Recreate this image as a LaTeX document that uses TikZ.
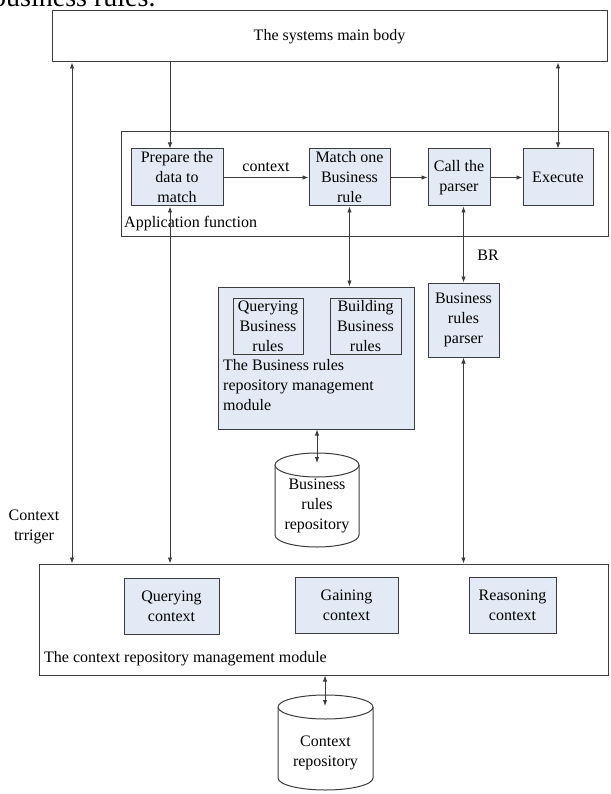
\documentclass[tikz,border=0pt]{standalone}
\usepackage{fontspec}
\setmainfont{Liberation Serif}
\usetikzlibrary{arrows.meta}
\definecolor{boxfill}{RGB}{228,234,245}
\definecolor{linegray}{RGB}{60,60,60}
\tikzset{
	outerbox/.style={draw=linegray, line width=1pt, fill=white},
	blockbox/.style={draw=linegray, line width=1pt, fill=boxfill, align=center, inner sep=1pt},
	link/.style={draw=linegray, line width=0.9pt},
	>={Latex[length=6pt,width=4.5pt]}
}
\begin{document}
\begin{tikzpicture}[x=1pt,y=-1pt,font=\fontsize{16}{20}\selectfont]
	\useasboundingbox (0,0) rectangle (610,794);
	%Caption cut off at the top
	\node [anchor=base west, inner sep=0pt, font=\fontsize{28}{30}\selectfont] (caption) at (-8,7) {business rules.};
	%The systems main body
	\node [outerbox, minimum width=555, minimum height=51] (main) at (329.5,36.5) {The systems main body};
	%Application function
	\node [outerbox, minimum width=487, minimum height=104] (app) at (364.5,184) {};
	\node [anchor=west, inner sep=2pt] (applabel) at (122,224) {Application function};
	\node [blockbox, minimum width=92, minimum height=57] (prep) at (177,177.5) {Prepare the\\data to\\match};
	\node [blockbox, minimum width=81, minimum height=57] (match) at (349.5,177.5) {Match one\\Business\\rule};
	\node [blockbox, minimum width=62, minimum height=57] (call) at (459,177.5) {Call the\\parser};
	\node [blockbox, minimum width=70, minimum height=57] (exec) at (558,177.5) {Execute};
	%Business rules repository management module
	\node [blockbox, minimum width=196, minimum height=142] (brm) at (316,358) {};
	\node [blockbox, minimum width=70, minimum height=56] (qbr) at (268,326) {Querying\\Business\\rules};
	\node [blockbox, minimum width=71, minimum height=56] (bbr) at (365.5,326) {Building\\Business\\rules};
	\node [anchor=north west, align=left, inner sep=2pt] (brmlabel) at (221,357) {The Business rules\\repository management\\module};
	\node [blockbox, minimum width=71, minimum height=74] (parser) at (463.5,320) {Business\\rules\\parser};
	\node [inner sep=0pt] (brlabel) at (488,255) {BR};
	%Business rules repository
	\draw [outerbox] (275,465) -- (275,535) arc [start angle=180, end angle=0, x radius=42, y radius=12]
		-- (359,465) arc [start angle=0, end angle=-180, x radius=42, y radius=12] -- cycle;
	\draw [outerbox] (275,465) arc [start angle=180, end angle=0, x radius=42, y radius=12];
	\node [align=center, inner sep=0pt] (brrepo) at (317,506) {Business\\rules\\repository};
	\coordinate (brrepotop) at (317,463);
	%Context repository management module
	\node [outerbox, minimum width=569, minimum height=111] (cmgmt) at (323.5,619.5) {};
	\node [anchor=west, inner sep=2pt] (cmgmtlabel) at (42,659) {The context repository management module};
	\node [blockbox, minimum width=95, minimum height=56] (qctx) at (171.5,606) {Querying\\context};
	\node [blockbox, minimum width=103, minimum height=56] (gctx) at (346.5,605.5) {Gaining\\context};
	\node [blockbox, minimum width=87, minimum height=56] (rctx) at (512.5,605) {Reasoning\\context};
	%Context repository
	\draw [outerbox] (278,707) -- (278,778) arc [start angle=180, end angle=0, x radius=47.5, y radius=12]
		-- (373,707) arc [start angle=0, end angle=-180, x radius=47.5, y radius=12] -- cycle;
	\draw [outerbox] (278,707) arc [start angle=180, end angle=0, x radius=47.5, y radius=12];
	\node [align=center, inner sep=0pt] (crepo) at (325.5,753) {Context\\repository};
	\coordinate (crepotop) at (325,706);
	%Context trriger
	\node [align=center, inner sep=0pt] (trig) at (34,527) {Context\\trriger};
	%Vertical lines
	\coordinate (trigx) at (72,0);
	\coordinate (prepx) at (170,0);
	\draw [link,<->] (main.south -| trigx) -- (cmgmt.north -| trigx);
	\draw [link,->] (main.south -| prepx) -- (prep.north -| prepx);
	\draw [link,<->] (prep.south -| prepx) -- (cmgmt.north -| prepx);
	\draw [link,<->] (main.south -| exec) -- (exec.north);
	\draw [link,<->] (match.south) -- (match.south |- brm.north);
	\draw [link,<->] (parser.north |- call.south) -- (parser.north);
	\draw [link,<->] (parser.south) -- (parser.south |- cmgmt.north);
	\draw [link,<->] (brm.south -| brrepotop) -- (brrepotop);
	\draw [link,<->] (cmgmt.south -| crepotop) -- (crepotop);
	%Horizontal flow
	\draw [link,->] (prep) -- node [above=5pt, inner sep=0pt] (ctxlabel) {context} (match);
	\draw [link,->] (match) -- (call);
	\draw [link,->] (call) -- (exec);
\end{tikzpicture}
\end{document}
